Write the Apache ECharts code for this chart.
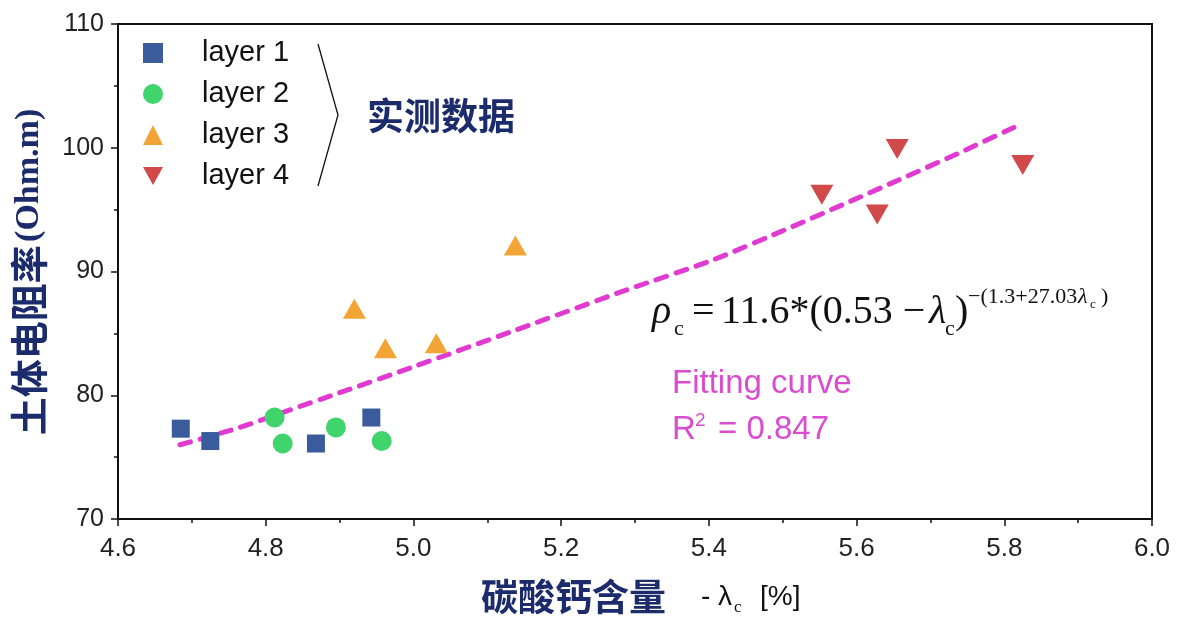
<!DOCTYPE html>
<html>
<head>
<meta charset="utf-8">
<script src="https://cdn.jsdelivr.net/npm/echarts@6/dist/echarts.min.js"></script>
<style>
html,body{margin:0;padding:0;background:#fff;}
#chart{width:1190px;height:620px;}
</style>
</head>
<body>
<div id="chart"></div>
<script>
// ---- data ----
var seriesNames = ['layer 1', 'layer 2', 'layer 3', 'layer 4'];
var layer1X = [4.685, 4.725, 4.868, 4.943];
var layer1Y = [77.3, 76.3, 76.1, 78.2];
var layer2X = [4.812, 4.823, 4.895, 4.957];
var layer2Y = [78.2, 76.1, 77.4, 76.3];
var layer3X = [4.920, 4.962, 5.031, 5.138];
var layer3Y = [87.0, 83.8, 84.2, 92.1];
var layer4X = [5.553, 5.628, 5.655, 5.825];
var layer4Y = [96.2, 94.6, 99.9, 98.6];
var fitX = [4.684, 4.765, 4.832, 4.90, 5.00, 5.14, 5.288, 5.404, 5.512, 5.585, 5.657, 5.747, 5.822];
var fitY = [76.0, 77.4, 78.8, 80.2, 82.3, 85.3, 88.5, 90.9, 93.6, 95.5, 97.4, 99.8, 101.9];
var xTicks = ['4.6', '4.8', '5.0', '5.2', '5.4', '5.6', '5.8', '6.0'];
var yTicks = ['70', '80', '90', '100', '110'];

function pairs(xs, ys) { return xs.map(function (x, i) { return [x, ys[i]]; }); }

var NAVY = '#1B2B6B';
var MAG = '#D94BCF';
var chart = echarts.init(document.getElementById('chart'), null, { renderer: 'canvas' });

var axisCommon = {
  axisLine: { show: true, lineStyle: { color: '#111', width: 2 } },
  axisTick: { show: true, inside: false, length: 7, lineStyle: { color: '#111', width: 1.5 } },
  minorTick: { show: true, splitNumber: 2, length: 4, lineStyle: { color: '#111', width: 1.5 } },
  splitLine: { show: false }
};

var option = {
  backgroundColor: '#fff',
  animation: false,
  grid: { left: 118, right: 38, top: 24, bottom: 101, show: true, borderColor: '#111', borderWidth: 2 },
  xAxis: Object.assign({
    type: 'value', min: 4.6, max: 6.0, interval: 0.2,
    axisLabel: { color: '#222', fontSize: 26, fontFamily: 'Liberation Sans, Arial', margin: 17,
      formatter: function (v) { var s = v.toFixed(1); return xTicks.indexOf(s) >= 0 ? s : ''; } }
  }, axisCommon),
  yAxis: Object.assign({
    type: 'value', min: 70, max: 110, interval: 10,
    axisLabel: { color: '#222', fontSize: 25, fontFamily: 'Liberation Sans, Arial', margin: 14,
      formatter: function (v) { var s = String(Math.round(v)); return yTicks.indexOf(s) >= 0 ? s : ''; } }
  }, axisCommon),
  legend: {
    data: seriesNames,
    orient: 'vertical', left: 138, top: 33,
    itemWidth: 20, itemHeight: 20, itemGap: 11,
    textStyle: { fontSize: 29, fontFamily: 'Liberation Sans, Arial', color: '#111', lineHeight: 30, padding: [0, 0, 0, 34] }
  },
  series: [
    { name: seriesNames[0], type: 'scatter', data: pairs(layer1X, layer1Y), symbol: 'rect', symbolSize: 18,
      itemStyle: { color: '#3A5C9C', opacity: 1 } },
    { name: 'fit', type: 'line', data: pairs(fitX, fitY), smooth: 0.25, showSymbol: false, symbol: 'none',
      lineStyle: { color: '#E03AD0', width: 5, type: [11, 10], cap: 'round' }, z: 2 },
    { name: seriesNames[1], type: 'scatter', data: pairs(layer2X, layer2Y), symbol: 'circle', symbolSize: 20,
      itemStyle: { color: '#3FD46C', opacity: 1 }, z: 3 },
    { name: seriesNames[2], type: 'scatter', data: pairs(layer3X, layer3Y), symbol: 'triangle', symbolSize: [23, 20],
      itemStyle: { color: '#F2A534', opacity: 1 }, z: 3 },
    { name: seriesNames[3], type: 'scatter', data: pairs(layer4X, layer4Y), symbol: 'path://M0,0L20,0L10,18Z', symbolSize: [23, 20],
      itemStyle: { color: '#D24949', opacity: 1 }, z: 3 }
  ],
  graphic: [
    // bracket next to the legend
    { type: 'polyline', shape: { points: [[318, 44], [338, 115], [318, 186]] }, style: { stroke: '#111', lineWidth: 1.3, fill: null } },
    { type: 'text', x: 367, y: 116, style: { text: '实测数据', font: 'bold 37px "Noto Sans CJK SC"', fill: NAVY, verticalAlign: 'middle', align: 'left' } },
    // y axis title
    { type: 'text', x: 29, y: 272, rotation: Math.PI / 2,
      style: { text: '{cn|土体电阻率} {en|(Ohm.m)}', align: 'center', verticalAlign: 'middle',
        rich: { cn: { font: 'bold 38px "Noto Sans CJK SC"', fill: NAVY }, en: { font: 'bold 34px "Liberation Serif", "DejaVu Serif"', fill: NAVY } } } },
    // x axis title
    { type: 'text', x: 481, y: 597, style: { text: '碳酸钙含量', font: 'bold 37px "Noto Sans CJK SC"', fill: NAVY, verticalAlign: 'middle', align: 'left' } },
    { type: 'text', x: 701, y: 597, style: { text: '- λ', font: '28px "Liberation Sans", Arial', fill: '#111', verticalAlign: 'middle', align: 'left' } },
    { type: 'text', x: 734, y: 608, style: { text: 'c', font: '17px "Liberation Serif"', fill: '#111', verticalAlign: 'middle', align: 'left' } },
    { type: 'text', x: 760, y: 597, style: { text: '[%]', font: '28px "Liberation Sans", Arial', fill: '#111', verticalAlign: 'middle', align: 'left' } },
    // formula
    { type: 'text', x: 652, y: 312, style: { text: 'ρ', font: 'italic 40px "Liberation Serif"', fill: '#111', verticalAlign: 'middle', align: 'left' } },
    { type: 'text', x: 674, y: 329, style: { text: 'c', font: '22px "Liberation Serif"', fill: '#111', verticalAlign: 'middle', align: 'left' } },
    { type: 'text', x: 692, y: 312, style: { text: '=', font: '40px "Liberation Serif"', fill: '#111', verticalAlign: 'middle', align: 'left' } },
    { type: 'text', x: 721, y: 312, style: { text: '11.6*(0.53 − ', font: '40px "Liberation Serif"', fill: '#111', verticalAlign: 'middle', align: 'left' } },
    { type: 'text', x: 929, y: 312, style: { text: 'λ', font: 'italic 40px "Liberation Serif"', fill: '#111', verticalAlign: 'middle', align: 'left' } },
    { type: 'text', x: 945, y: 329, style: { text: 'c', font: '22px "Liberation Serif"', fill: '#111', verticalAlign: 'middle', align: 'left' } },
    { type: 'text', x: 955, y: 312, style: { text: ')', font: '40px "Liberation Serif"', fill: '#111', verticalAlign: 'middle', align: 'left' } },
    { type: 'text', x: 968, y: 297, style: { text: '−(1.3+27.03', font: '22px "Liberation Serif"', fill: '#111', verticalAlign: 'middle', align: 'left' } },
    { type: 'text', x: 1078, y: 297, style: { text: 'λ', font: 'italic 22px "Liberation Serif"', fill: '#111', verticalAlign: 'middle', align: 'left' } },
    { type: 'text', x: 1090, y: 305, style: { text: 'c', font: '13px "Liberation Serif"', fill: '#111', verticalAlign: 'middle', align: 'left' } },
    { type: 'text', x: 1101, y: 297, style: { text: ')', font: '22px "Liberation Serif"', fill: '#111', verticalAlign: 'middle', align: 'left' } },
    // fitting annotation
    { type: 'text', x: 672, y: 384, style: { text: 'Fitting curve', font: '33px "Liberation Sans", Arial', fill: MAG, verticalAlign: 'middle', align: 'left' } },
    { type: 'text', x: 672, y: 430, style: { text: 'R', font: '33px "Liberation Sans", Arial', fill: MAG, verticalAlign: 'middle', align: 'left' } },
    { type: 'text', x: 695, y: 421, style: { text: '2', font: '19px "Liberation Sans", Arial', fill: MAG, verticalAlign: 'middle', align: 'left' } },
    { type: 'text', x: 718, y: 430, style: { text: '= 0.847', font: '33px "Liberation Sans", Arial', fill: MAG, verticalAlign: 'middle', align: 'left' } }
  ]
};
chart.setOption(option);
</script>
</body>
</html>
